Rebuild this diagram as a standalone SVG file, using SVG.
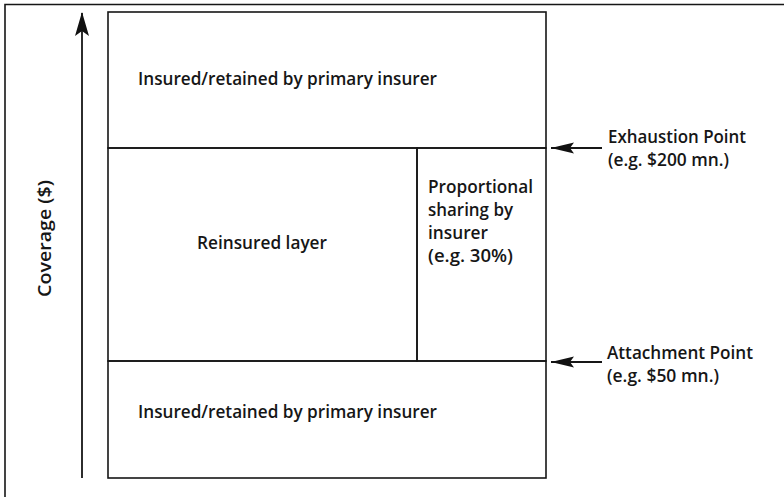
<svg xmlns="http://www.w3.org/2000/svg" width="784" height="498" viewBox="0 0 784 498">
<style>
.ln{stroke:#161616;stroke-width:1.6;fill:none}
.t{font-family:"Open Sans","Noto Sans",sans-serif;font-size:18px;font-weight:600;fill:#161616}
</style>
<defs>
<marker id="ah" markerWidth="24" markerHeight="14" refX="23" refY="7" orient="auto" markerUnits="userSpaceOnUse">
<path d="M0,0 L24,7 L0,14 L5,7 Z" fill="#111"/>
</marker>
<marker id="ahs" markerWidth="24" markerHeight="12" refX="23" refY="6" orient="auto" markerUnits="userSpaceOnUse">
<path d="M0,0.5 L23,6 L0,11.5 L4,6 Z" fill="#111"/>
</marker>
</defs>
<rect width="784" height="498" fill="#fff"/>
<g id="frame">
<path class="ln" d="M5,497 V4.5 H784"/>
</g>
<g id="top-layer">
<rect class="ln" x="108" y="12" width="438" height="136"/>
<text class="t" x="138" y="85" textLength="299" lengthAdjust="spacingAndGlyphs">Insured/retained by primary insurer</text>
</g>
<g id="reinsured-layer">
<rect class="ln" x="108" y="148" width="309" height="213"/>
<text class="t" x="197" y="249" textLength="130" lengthAdjust="spacingAndGlyphs">Reinsured layer</text>
</g>
<g id="proportional">
<rect class="ln" x="417" y="148" width="129" height="213"/>
<text class="t" x="428" y="193" textLength="105" lengthAdjust="spacingAndGlyphs">Proportional</text>
<text class="t" x="428" y="216" textLength="85" lengthAdjust="spacingAndGlyphs">sharing by</text>
<text class="t" x="428" y="239" textLength="60" lengthAdjust="spacingAndGlyphs">insurer</text>
<text class="t" x="428" y="262" textLength="85" lengthAdjust="spacingAndGlyphs">(e.g. 30%)</text>
</g>
<g id="bottom-layer">
<rect class="ln" x="108" y="361" width="438" height="117"/>
<text class="t" x="138" y="418" textLength="299" lengthAdjust="spacingAndGlyphs">Insured/retained by primary insurer</text>
</g>
<g id="coverage-axis">
<text class="t" transform="translate(51,297) rotate(-90)" textLength="117" lengthAdjust="spacingAndGlyphs">Coverage ($)</text>
</g>
<g id="exhaustion-label">
<text class="t" x="608" y="143" textLength="138" lengthAdjust="spacingAndGlyphs">Exhaustion Point</text>
<text class="t" x="608" y="166" textLength="121" lengthAdjust="spacingAndGlyphs">(e.g. $200 mn.)</text>
</g>
<g id="attachment-label">
<text class="t" x="607" y="359" textLength="146" lengthAdjust="spacingAndGlyphs">Attachment Point</text>
<text class="t" x="607" y="382" textLength="112" lengthAdjust="spacingAndGlyphs">(e.g. $50 mn.)</text>
</g>
<g id="connectors">
<line class="ln" x1="82" y1="478" x2="82" y2="13" marker-end="url(#ah)" style="stroke-width:1.8"/>
<line class="ln" x1="602" y1="148" x2="551" y2="148" marker-end="url(#ahs)" style="stroke-width:2"/>
<line class="ln" x1="602" y1="362" x2="551" y2="362" marker-end="url(#ahs)" style="stroke-width:2"/>
</g>
</svg>
